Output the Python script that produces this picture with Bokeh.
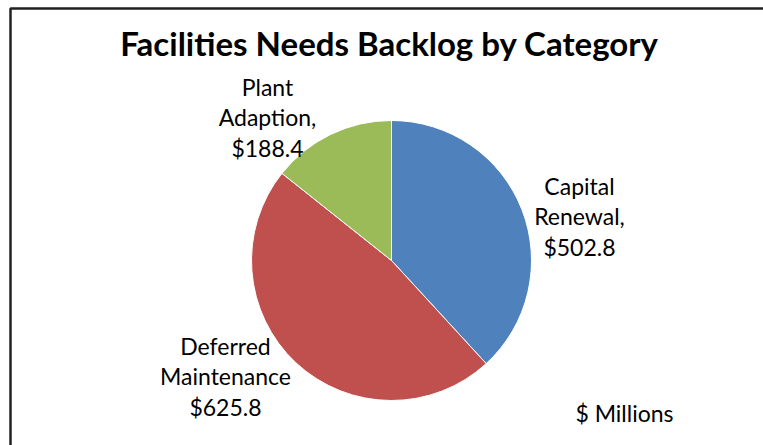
import math
from bokeh.plotting import figure
from bokeh.models import Range1d, ColumnDataSource
from bokeh.core.properties import value
from bokeh.embed import file_html
from bokeh.resources import INLINE

# ---- data ----
categories = ["Capital Renewal", "Deferred Maintenance", "Plant Adaption"]
label_texts = ["Capital\nRenewal,\n$502.8", "Deferred\nMaintenance\n$625.8", "Plant\nAdaption,\n$188.4"]
values = [502.8, 625.8, 188.4]
colors = ["#4F81BD", "#C0504D", "#9BBB59"]
title_text = "Facilities Needs Backlog by Category"
unit_text = "$ Millions"

W, H = 763, 445
FONT = "Lato"

p = figure(width=W, height=H, output_backend="svg", toolbar_location=None,
           x_range=Range1d(0, W), y_range=Range1d(0, H), min_border=0)
p.axis.visible = False
p.grid.visible = False
p.outline_line_color = None
p.background_fill_color = "white"
p.border_fill_color = "white"

def Y(py):
    return H - py

# pie
cx, cy, r = 391, Y(260), 140
total = sum(values)
starts, ends = [], []
acc = 0.0
for v in values:
    a0 = math.pi / 2 - 2 * math.pi * acc / total
    acc += v
    a1 = math.pi / 2 - 2 * math.pi * acc / total
    starts.append(a0)
    ends.append(a1)
src = ColumnDataSource(dict(start=starts, end=ends, color=colors, cat=categories))
p.wedge(x=cx, y=cy, radius=r, start_angle="start", end_angle="end", direction="clock",
        fill_color="color", line_color="white", line_width=1, source=src)

# data labels (layout positions)
label_pos = [(579, Y(216)), (225, Y(376)), (267, Y(117))]
p.text(x=[lp[0] for lp in label_pos], y=[lp[1] for lp in label_pos], text=label_texts,
       text_align="center", text_baseline="middle", text_font=value(FONT),
       text_font_size="23px", text_line_height=1.1, text_color="#000000")

# title
p.text(x=[389], y=[Y(42)], text=[title_text], text_align="center", text_baseline="middle",
       text_font=value(FONT), text_font_style="bold", text_font_size="33px", text_color="#000000")

# unit note
p.text(x=[624], y=[Y(412)], text=[unit_text], text_align="center", text_baseline="middle",
       text_font=value(FONT), text_font_size="23px", text_color="#000000")

# chart border (top and left visible)
p.line(x=[10, 10, W + 5], y=[-5, Y(8), Y(8)], line_color="#222222", line_width=2.5)

open("out.html", "w").write(file_html(p, INLINE))
